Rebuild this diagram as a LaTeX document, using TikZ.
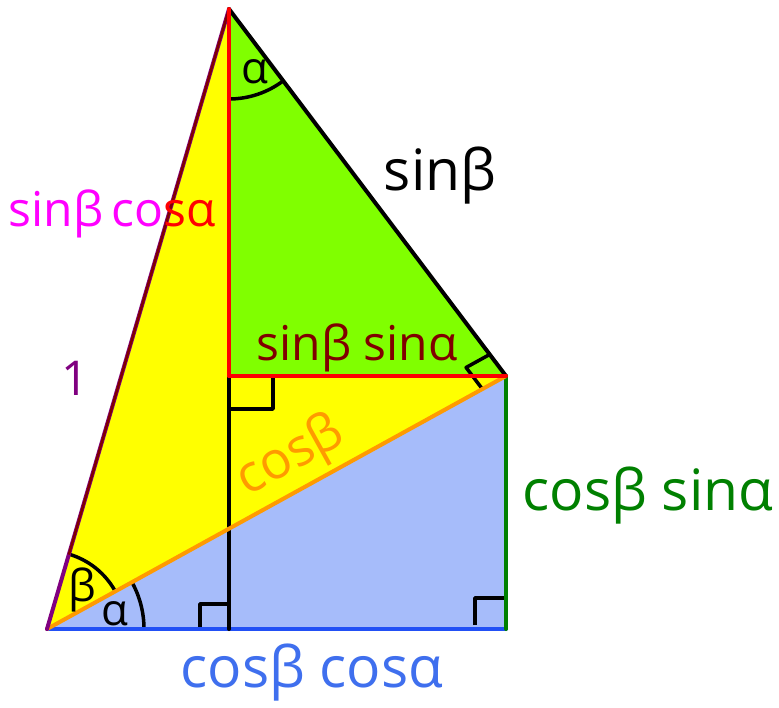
\documentclass[tikz,border=0pt]{standalone}
\usepackage{fontspec}
\setmainfont{Open Sans}
\usetikzlibrary{calc,angles}
\definecolor{fillyellow}{HTML}{FFFF00}
\definecolor{fillgreen}{HTML}{80FF00}
\definecolor{fillblue}{HTML}{A6BCFA}
\definecolor{lineblue}{HTML}{2250F5}
\definecolor{lineorange}{HTML}{FF9A00}
\definecolor{linegreen}{HTML}{008000}
\definecolor{linepurple}{HTML}{800080}
\definecolor{darkred}{HTML}{800000}
\definecolor{txtblue}{HTML}{3F6FEE}
\definecolor{txtmagenta}{HTML}{FF00FF}
\tikzset{
  edge/.style={line width=4pt, line cap=round, line join=round},
  rmark/.style={line width=3.5pt, black, line join=round},
  arcmark/.style={draw, line width=3.5pt, black},
  lbl/.style={inner sep=0pt, font=\fontsize{48}{56}\selectfont},
  big/.style={inner sep=0pt, font=\fontsize{57}{64}\selectfont},
  small/.style={inner sep=0pt, font=\fontsize{44}{50}\selectfont},
}
\begin{document}
\begin{tikzpicture}[x=1pt,y=-1pt]
\useasboundingbox (0,0) rectangle (779,707);
\coordinate (A) at (47,629);
\coordinate (B) at (506,629);
\coordinate (C) at (506,376);
\coordinate (D) at (229,9);
\coordinate (E) at (229,376);
\coordinate (F) at (229,629);
% fills
\fill[fillblue] (A) -- (B) -- (C) -- cycle;
\fill[fillyellow] (A) -- (C) -- (D) -- cycle;
\fill[fillgreen] (D) -- (E) -- (C) -- cycle;
% right angle marks
\draw[rmark] ($(E)+(0,33)$) -- ($(E)+(44,33)$) -- ($(E)+(44,2)$);
\draw[rmark] ($(F)+(-29,-2)$) -- ($(F)+(-29,-25)$) -- ($(F)+(0,-25)$);
\draw[rmark] ($(B)+(-31,-4)$) -- ($(B)+(-31,-31)$) -- ($(B)+(-2,-31)$);
\coordinate (P1) at ($(C)!27pt!(D)$);
\coordinate (P2) at ($(C)!27pt!(A)$);
\draw[rmark] (P1) -- ($(P1)+(P2)-(C)$) -- (P2);
% angle arcs
\pic[arcmark, angle radius=90pt] {angle = E--D--C};
\pic[arcmark, angle radius=78pt] {angle = C--A--D};
\pic[arcmark, angle radius=97pt] {angle = B--A--C};
% edges
\draw[edge, lineblue] (A) -- (B);
\draw[edge, linegreen] (B) -- (C);
\draw[edge, black] (E) -- (F);
\draw[edge, lineorange] (A) -- (C);
\draw[edge, linepurple] (A) -- (D);
\draw[line width=2.5pt, darkred] ($(A)!0.12!(D)$) -- (D);
\draw[edge, black] (D) -- (C);
\draw[edge, red] (D) -- (E);
\draw[edge, red] (E) -- (C);
% labels
\node[big, black] (lsb) at (440,176) {sinβ};
\node[lbl] (lsbca) at (112,214) {\textcolor{txtmagenta}{sinβ\,co}\textcolor{red}{sα}};
\node[lbl, linepurple] (lone) at (75,378) {1};
\node[lbl, darkred] (lsbsa) at (357,348) {sinβ sinα};
\node[inner sep=0pt, font=\fontsize{52}{60}\selectfont, lineorange, rotate=29] (lcb) at (291,457) {cosβ};
\node[big, linegreen] (lcbsa) at (648,496) {cosβ sinα};
\node[big, txtblue] (lcbca) at (312,673) {cosβ cosα};
\node[small, black] (la1) at (255,72) {α};
\node[small, black] (lb) at (82,590) {β};
\node[small, black] (la2) at (115,614) {α};
\end{tikzpicture}
\end{document}
